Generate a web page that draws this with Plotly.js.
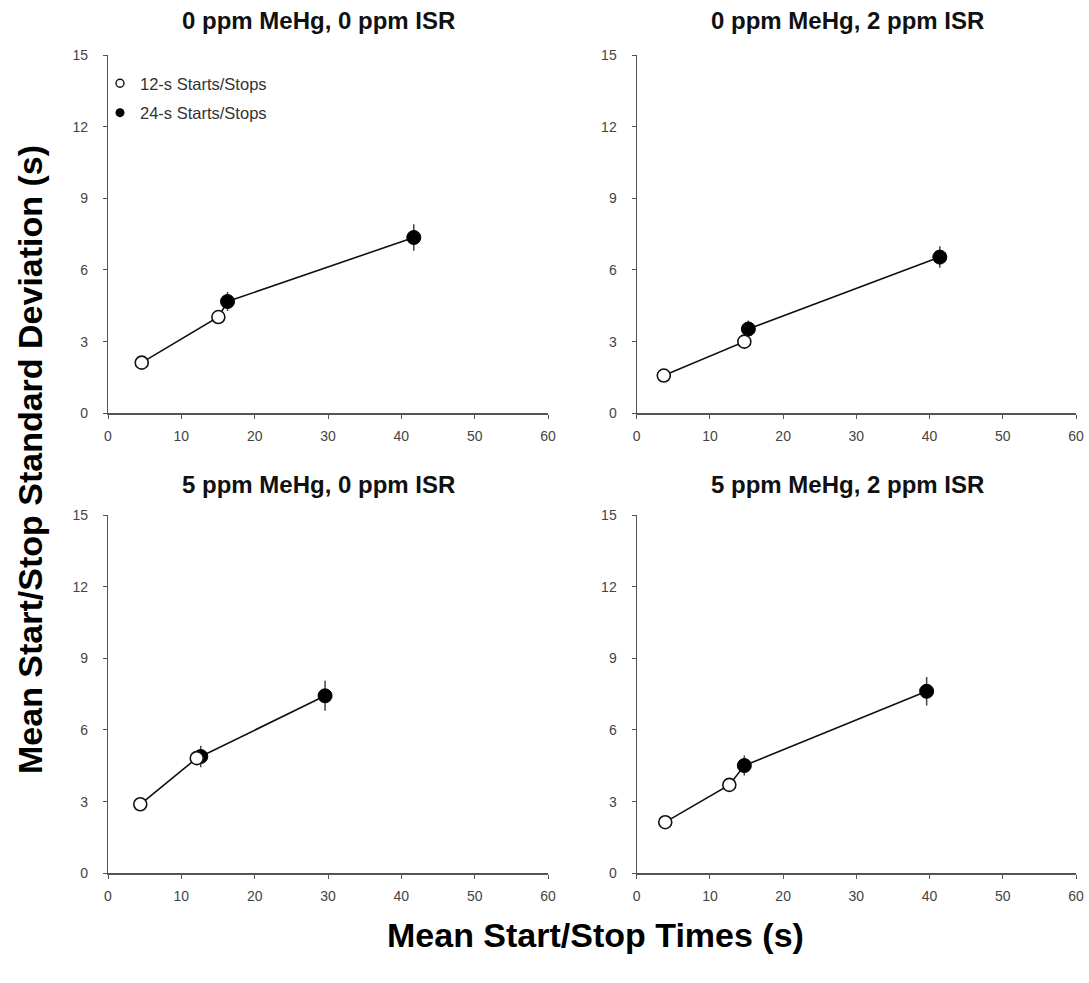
<!DOCTYPE html>
<html>
<head>
<meta charset="utf-8">
<script src="https://cdn.plot.ly/plotly-3.0.1.min.js"></script>
<style>html,body{margin:0;padding:0;background:#fff;}#chart{width:1089px;height:983px;}</style>
</head>
<body>
<div id="chart"></div>
<script>
// Panel titles
const panelTitles = ["0 ppm MeHg, 0 ppm ISR", "0 ppm MeHg, 2 ppm ISR", "5 ppm MeHg, 0 ppm ISR", "5 ppm MeHg, 2 ppm ISR"];
const seriesNames = ["12-s Starts/Stops", "24-s Starts/Stops"];

// 12-s Starts/Stops (open circles): x = mean time, y = mean SD
const x12 = [[4.6, 15.05], [3.7, 14.7], [4.4, 12.1], [3.9, 12.65]];
const y12 = [[2.12, 4.03], [1.58, 3.0], [2.89, 4.82], [2.14, 3.70]];
const e12 = [[0.15, 0.2], [0.15, 0.2], [0.25, 0.3], [0.15, 0.2]];

// 24-s Starts/Stops (filled circles)
const x24 = [[16.3, 41.7], [15.25, 41.4], [12.65, 29.6], [14.7, 39.6]];
const y24 = [[4.68, 7.36], [3.53, 6.54], [4.89, 7.43], [4.51, 7.62]];
const e24 = [[0.4, 0.55], [0.35, 0.45], [0.45, 0.63], [0.42, 0.6]];

const xTicks = [0, 10, 20, 30, 40, 50, 60];
const yTicks = [0, 3, 6, 9, 12, 15];

const W = 1089, H = 983;
const xDomains = [[108 / W, 548 / W], [636.7 / W, 1076 / W]];
const yDomains = [[1 - 413.3 / H, 1 - 55 / H], [1 - 873.3 / H, 1 - 515 / H]];
const titleX = [318 / W, 848 / W];
const titleY = [1 - 21 / H, 1 - 484 / H];

const traces = [];
const layout = {
  width: W, height: H,
  margin: {l: 0, r: 0, t: 0, b: 0},
  paper_bgcolor: '#fff', plot_bgcolor: '#fff',
  showlegend: true,
  font: {family: 'Liberation Sans, Arial, sans-serif', color: '#333'},
  legend: {
    x: 100 / W, y: 1 - 66 / H, xanchor: 'left', yanchor: 'top',
    bgcolor: 'rgba(0,0,0,0)', font: {size: 16.5, color: '#333'},
    tracegroupgap: 5, itemwidth: 30
  },
  annotations: []
};

for (let p = 0; p < 4; p++) {
  const col = p % 2, row = Math.floor(p / 2);
  const ax = p === 0 ? '' : String(p + 1);
  const xa = 'x' + ax, ya = 'y' + ax;
  // connecting line through all points in order of x
  const pts = [];
  for (let i = 0; i < 2; i++) pts.push([x12[p][i], y12[p][i]]);
  for (let i = 0; i < 2; i++) pts.push([x24[p][i], y24[p][i]]);
  pts.sort((a, b) => a[0] - b[0]);
  traces.push({
    x: pts.map(d => d[0]), y: pts.map(d => d[1]), xaxis: xa, yaxis: ya,
    mode: 'lines', line: {color: '#111', width: 1.6}, showlegend: false, hoverinfo: 'skip'
  });
  traces.push({
    x: x24[p], y: y24[p], xaxis: xa, yaxis: ya, mode: 'markers',
    marker: {symbol: 'circle', size: 14, color: '#000', line: {color: '#000', width: 1}},
    error_y: {type: 'data', array: e24[p], visible: true, color: '#444', thickness: 1.5, width: 0},
    showlegend: false
  });
  traces.push({
    x: x12[p], y: y12[p], xaxis: xa, yaxis: ya, mode: 'markers',
    marker: {symbol: 'circle', size: 13, color: '#fff', line: {color: '#111', width: 1.6}},
    error_y: {type: 'data', array: e12[p], visible: true, color: '#444', thickness: 1.5, width: 0},
    showlegend: false
  });
  const axCommon = {
    showgrid: false, zeroline: false, showline: true, linecolor: '#555', linewidth: 1.2,
    ticks: 'outside', ticklen: 4, tickcolor: '#555', tickwidth: 1,
    tickfont: {size: 14, color: '#444'}, mirror: false, fixedrange: true
  };
  layout['xaxis' + ax] = Object.assign({}, axCommon, {
    domain: xDomains[col], range: [0, 60], tickvals: xTicks, ticktext: xTicks.map(String),
    anchor: ya, ticklabelstandoff: 6
  });
  layout['yaxis' + ax] = Object.assign({}, axCommon, {
    domain: yDomains[row], range: [0, 15], tickvals: yTicks, ticktext: yTicks.map(String),
    anchor: xa, ticklabelstandoff: 12
  });
  layout.annotations.push({
    text: '<b>' + panelTitles[p] + '</b>', xref: 'paper', yref: 'paper',
    x: titleX[col], y: titleY[row], xanchor: 'center', yanchor: 'middle', showarrow: false,
    font: {size: 24, color: '#111'}
  });
}

// legend-only entries (no drawn marks)
traces.push({
  x: [null], y: [null], mode: 'markers', name: seriesNames[0], legendgroup: 'a',
  marker: {symbol: 'circle', size: 8, color: '#fff', line: {color: '#111', width: 1.4}}
});
traces.push({
  x: [null], y: [null], mode: 'markers', name: seriesNames[1], legendgroup: 'b',
  marker: {symbol: 'circle', size: 9, color: '#000'}
});

layout.annotations.push({
  text: '<b>Mean Start/Stop Times (s)</b>', xref: 'paper', yref: 'paper',
  x: 595 / W, y: 1 - 935 / H, xanchor: 'center', yanchor: 'middle', showarrow: false,
  font: {size: 34, color: '#000'}
});
layout.annotations.push({
  text: '<b>Mean Start/Stop Standard Deviation (s)</b>', xref: 'paper', yref: 'paper',
  x: 30 / W, y: 1 - 460 / H, xanchor: 'center', yanchor: 'middle', showarrow: false,
  textangle: -90, font: {size: 34, color: '#000'}
});

Plotly.newPlot('chart', traces, layout, {displayModeBar: false, staticPlot: true});
</script>
</body>
</html>
